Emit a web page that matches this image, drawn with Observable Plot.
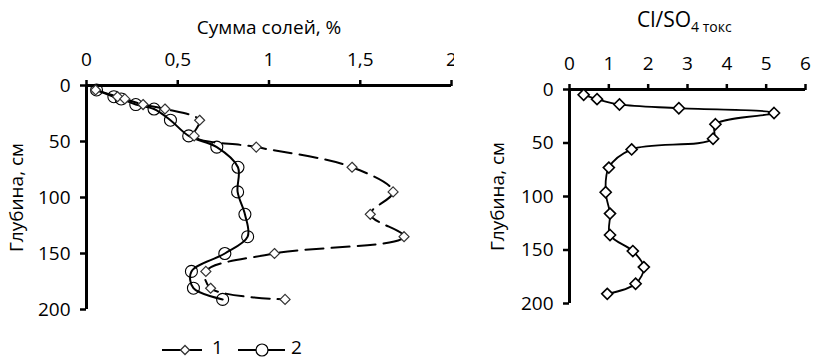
<!DOCTYPE html>
<html><head><meta charset="utf-8">
<script src="https://cdn.jsdelivr.net/npm/d3@7"></script>
<script src="https://cdn.jsdelivr.net/npm/@observablehq/plot@0.6"></script>
<style>
body{margin:0;background:#fff;font-family:"Open Sans",sans-serif;}
#wrap{position:relative;width:813px;height:360px;overflow:hidden;background:#fff;}
#left{position:absolute;left:0;top:0;}
#right{position:absolute;left:460px;top:0;}
#rtitle{position:absolute;left:637px;top:5px;font-family:"Open Sans",sans-serif;font-size:21px;color:#000;white-space:nowrap;line-height:28px;}
#rtitle sub{font-size:14px;vertical-align:-5px;line-height:0;}
#legend{position:absolute;left:0;top:332px;}
</style></head><body>
<div id="wrap">
  <div id="left"></div>
  <div id="right"></div>
  <div id="rtitle">Cl/SO<sub>4 токс</sub></div>
  <svg id="legend" width="460" height="28" font-family="Open Sans, sans-serif" font-size="19">
    <line x1="162" x2="202" y1="18" y2="18" stroke="#000" stroke-width="2"/>
    <path d="M185,13.5 L189.5,18 L185,22.5 L180.5,18 Z" fill="#fff" stroke="#333" stroke-width="1.3"/>
    <text x="212" y="21.5">1</text>
    <line x1="238" x2="285" y1="18" y2="18" stroke="#000" stroke-width="2"/>
    <circle cx="262" cy="18" r="6" fill="#fff" stroke="#000" stroke-width="1.2"/>
    <text x="291" y="21.5">2</text>
  </svg>
</div>
<script>
// ---- data ----
const depthLeft = [4, 10, 12, 17, 21, 31, 45, 55, 73, 95, 115, 135, 150, 166, 181, 191];
const saltSeries1 = [0.05, 0.17, 0.21, 0.31, 0.43, 0.62, 0.59, 0.93, 1.455, 1.68, 1.555, 1.74, 1.03, 0.654, 0.68, 1.088];
const saltSeries2 = [0.055, 0.15, 0.19, 0.27, 0.37, 0.46, 0.56, 0.714, 0.83, 0.828, 0.868, 0.883, 0.758, 0.575, 0.586, 0.746];
const depthRight = [5, 9, 14, 17.5, 22, 32.5, 46, 56, 73, 96, 116, 136, 151, 166, 181.5, 191];
const clso4 = [0.36, 0.70, 1.27, 2.78, 5.2, 3.71, 3.65, 1.58, 1.0, 0.92, 1.03, 1.03, 1.61, 1.89, 1.68, 0.96];
const xTicksLeft = [0, 0.5, 1, 1.5, 2];
const xTickLabelsLeft = ["0", "0,5", "1", "1,5", "2"];
const xTicksRight = [0, 1, 2, 3, 4, 5, 6];
const yTicks = [0, 50, 100, 150, 200];
const seriesNames = ["1", "2"];

const s1 = depthLeft.map((d, i) => ({depth: d, v: saltSeries1[i]}));
const s2 = depthLeft.map((d, i) => ({depth: d, v: saltSeries2[i]}));
const sr = depthRight.map((d, i) => ({depth: d, v: clso4[i]}));
const leftLabel = new Map(xTicksLeft.map((t, i) => [t, xTickLabelsLeft[i]]));

const font = {fontFamily: "'Open Sans', sans-serif", fontSize: "19px", color: "#000", background: "transparent"};
const FS = 19;

const left = Plot.plot({
  width: 454, height: 330,
  marginTop: 85, marginLeft: 86, marginRight: 3, marginBottom: 21,
  style: font,
  x: {domain: [0, 2]},
  y: {domain: [0, 200], reverse: true},
  marks: [
    Plot.axisX({anchor: "top", ticks: xTicksLeft, tickFormat: d => leftLabel.get(d), tickSize: 6, strokeWidth: 2.5, tickPadding: 14, fontSize: FS,
      label: "Сумма солей, %", labelAnchor: "center", labelOffset: 65, labelArrow: "none"}),
    Plot.axisY({ticks: yTicks, tickSize: 6, strokeWidth: 2.5, tickPadding: 10, fontSize: FS,
      label: "Глубина, см", labelAnchor: "center", labelOffset: 77, labelArrow: "none"}),
    Plot.ruleY([0], {stroke: "#000", strokeWidth: 3}),
    Plot.ruleX([0], {stroke: "#000", strokeWidth: 3}),
    Plot.line(s1, {x: "v", y: "depth", curve: "catmull-rom", stroke: "#000", strokeWidth: 2, strokeDasharray: "18,8"}),
    Plot.line(s2, {x: "v", y: "depth", curve: "catmull-rom", stroke: "#000", strokeWidth: 2}),
    Plot.dot(s2, {x: "v", y: "depth", r: 6, symbol: "circle", fill: "none", stroke: "#000", strokeWidth: 1.1}),
    Plot.dot(s1, {x: "v", y: "depth", r: 4.5, symbol: "diamond2", fill: "#fff", stroke: "#333", strokeWidth: 1.2})
  ]
});
document.getElementById("left").appendChild(left);

const right = Plot.plot({
  width: 353, height: 330,
  marginTop: 89, marginLeft: 109, marginRight: 8, marginBottom: 27,
  style: font,
  x: {domain: [0, 6]},
  y: {domain: [0, 200], reverse: true},
  marks: [
    Plot.axisX({anchor: "top", ticks: xTicksRight, tickFormat: d => String(d), tickSize: 6, strokeWidth: 2.5, tickPadding: 14, fontSize: FS, label: null}),
    Plot.axisY({ticks: yTicks, tickSize: 6, strokeWidth: 2.5, tickPadding: 10, fontSize: FS,
      label: "Глубина, см", labelAnchor: "center", labelOffset: 79, labelArrow: "none"}),
    Plot.ruleY([0], {stroke: "#000", strokeWidth: 3}),
    Plot.ruleX([0], {stroke: "#000", strokeWidth: 3}),
    Plot.line(sr, {x: "v", y: "depth", curve: "catmull-rom", stroke: "#000", strokeWidth: 1.8}),
    Plot.dot(sr, {x: "v", y: "depth", r: 5, symbol: "diamond2", fill: "#fff", stroke: "#000", strokeWidth: 1.6})
  ]
});
document.getElementById("right").appendChild(right);
</script>
</body></html>
